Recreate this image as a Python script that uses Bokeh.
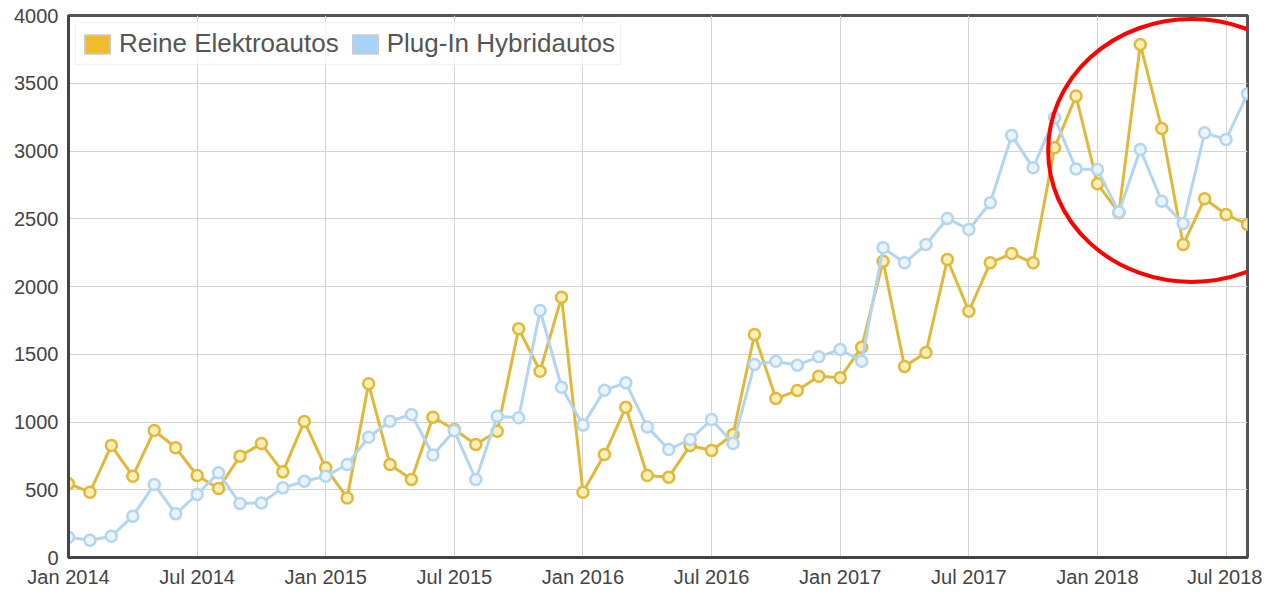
from bokeh.plotting import figure
from bokeh.models import Range1d, FixedTicker, Legend, LegendItem, ColumnDataSource
from bokeh.embed import file_html
from bokeh.resources import INLINE

# ---- data (monthly registrations, Jan 2014 .. Aug 2018) ----
months = [f"{y}-{m:02d}" for y in range(2014, 2019) for m in range(1, 13)][:56]
reine_elektro = [545, 482, 826, 600, 937, 810, 605, 509, 748, 841, 632, 1004,
                 662, 440, 1282, 686, 576, 1035, 945, 834, 932, 1688, 1375, 1921,
                 482, 760, 1109, 605, 593, 826, 790, 908, 1646, 1173, 1232, 1338,
                 1326, 1552, 2187, 1410, 1513, 2199, 1818, 2175, 2243, 2175, 3024, 3405,
                 2758, 2545, 3786, 3166, 2310, 2647, 2531, 2458]
plugin_hybrid = [150, 128, 157, 305, 539, 322, 465, 625, 398, 403, 514, 563,
                 600, 686, 888, 1006, 1055, 757, 935, 576, 1043, 1031, 1823, 1257,
                 977, 1235, 1289, 964, 797, 871, 1018, 841, 1424, 1449, 1419, 1481,
                 1535, 1449, 2286, 2175, 2310, 2502, 2421, 2618, 3114, 2876, 3245, 2868,
                 2863, 2549, 3011, 2630, 2465, 3134, 3085, 3422]
tick_positions = [0, 6, 12, 18, 24, 30, 36, 42, 48, 54]
tick_labels = ["Jan 2014", "Jul 2014", "Jan 2015", "Jul 2015", "Jan 2016",
               "Jul 2016", "Jan 2017", "Jul 2017", "Jan 2018", "Jul 2018"]
y_ticks = [0, 500, 1000, 1500, 2000, 2500, 3000, 3500, 4000]
series_names = ["Reine Elektroautos", "Plug-In Hybridautos"]
# highlight ellipse (annotation) in data units: centre month, centre value, width, height
highlight = dict(x=52.4, y=3004, w=13.4, h=1940)

ORANGE = "#E0B83A"
ORANGE_FILL = "#FBEFB8"
ORANGE_SW = "#EFBC2D"
BLUE = "#B3D5F0"
BLUE_FILL = "#EAF4FD"
BLUE_SW = "#A9D3F5"
FONT = "Liberation Sans"
NAN = float("nan")

x = list(range(len(months)))
src = ColumnDataSource(dict(x=x, e=reine_elektro, h=plugin_hybrid))

p = figure(width=1262, height=590, output_backend="svg", toolbar_location=None,
           x_range=Range1d(0, len(months) - 1), y_range=Range1d(0, 4000),
           min_border_left=68, min_border_right=15, min_border_top=15, min_border_bottom=32)

p.outline_line_color = "#555555"
p.outline_line_width = 3
p.background_fill_color = "white"
p.border_fill_color = "white"

p.xgrid.grid_line_color = "#d4d4d4"
p.ygrid.grid_line_color = "#d4d4d4"
p.xgrid.grid_line_width = 1
p.ygrid.grid_line_width = 1

p.xaxis.ticker = FixedTicker(ticks=tick_positions)
p.xaxis.major_label_overrides = {t: l for t, l in zip(tick_positions, tick_labels)}
p.yaxis.ticker = FixedTicker(ticks=y_ticks)
for ax in (p.xaxis, p.yaxis):
    ax.axis_line_color = "#444444"
    ax.axis_line_width = 3
    ax.major_tick_line_color = None
    ax.minor_tick_line_color = None
    ax.major_tick_out = 0
    ax.major_tick_in = 0
    ax.minor_tick_out = 0
    ax.minor_tick_in = 0
    ax.major_label_text_font = FONT
    ax.major_label_text_font_size = "20px"
    ax.major_label_text_color = "#444444"
p.xaxis.major_label_standoff = 8
p.yaxis.major_label_standoff = 10

# series
p.line("x", "e", source=src, line_color=ORANGE, line_width=3)
p.scatter("x", "e", source=src, marker="circle", size=11, fill_color=ORANGE_FILL,
          line_color=ORANGE, line_width=2.5)
p.line("x", "h", source=src, line_color=BLUE, line_width=3)
p.scatter("x", "h", source=src, marker="circle", size=11, fill_color=BLUE_FILL,
          line_color=BLUE, line_width=2.5)

# highlight ellipse
p.ellipse(x=[highlight["x"]], y=[highlight["y"]], width=highlight["w"], height=highlight["h"],
          fill_color=None, line_color="#FF0000", line_width=4)

# legend swatches (invisible data, only used for the legend glyphs)
sw_e = p.quad(left=[NAN], right=[NAN], top=[NAN], bottom=[NAN],
              fill_color=ORANGE_SW, line_color="#c9cbd8", line_width=1.5)
sw_h = p.quad(left=[NAN], right=[NAN], top=[NAN], bottom=[NAN],
              fill_color=BLUE_SW, line_color="#c9cbd8", line_width=1.5)
legend = Legend(items=[LegendItem(label=series_names[0], renderers=[sw_e]),
                       LegendItem(label=series_names[1], renderers=[sw_h])],
                orientation="horizontal", location="top_left",
                margin=7, padding=5, spacing=10, label_standoff=6,
                glyph_width=32, glyph_height=24,
                label_text_font=FONT, label_text_font_size="26px", label_text_color="#555555",
                border_line_color="#e4e4e4", border_line_alpha=0.5,
                background_fill_color="white", background_fill_alpha=0.7)
p.add_layout(legend)

open("out.html", "w").write(file_html(p, INLINE))
